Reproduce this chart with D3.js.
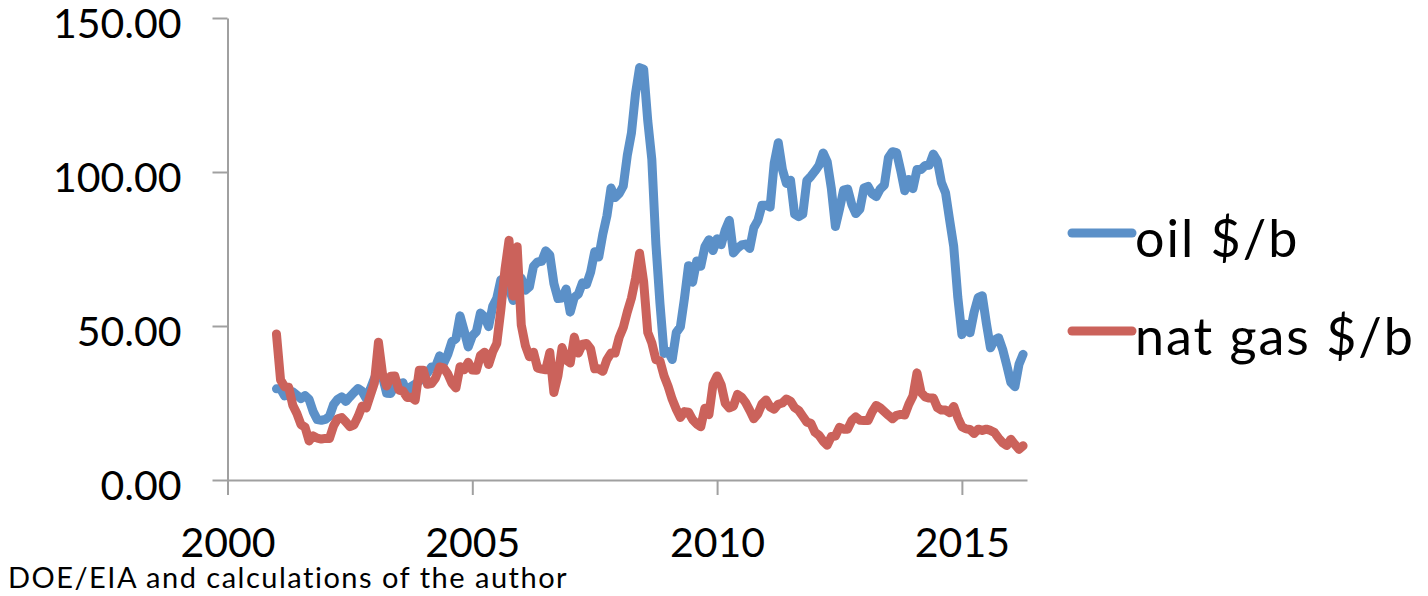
<!DOCTYPE html>
<html>
<head>
<meta charset="utf-8">
<script src="https://cdn.jsdelivr.net/npm/d3@7"></script>
<style>
  body { margin: 0; background: #fff; }
  svg { display: block; font-family: Lato, "Open Sans", sans-serif; }
</style>
</head>
<body>
<svg></svg>
<script>
// monthly series, Jan 2001 .. Apr 2016
const startYear = 2001;

const oil = [
    29.6, 29.6, 27.3, 27.5, 28.6, 27.6, 26.4, 27.4, 26.2, 22.2, 19.6, 19.4,
    19.7, 20.7, 24.5, 26.2, 27.0, 25.5, 27.0, 28.4, 29.7, 28.8, 26.4, 29.5,
    33.0, 35.8, 33.5, 28.2, 28.1, 30.7, 30.8, 31.6, 28.3, 30.3, 31.1, 32.1,
    34.3, 34.7, 36.7, 36.8, 40.3, 38.0, 40.8, 44.9, 45.9, 53.3, 48.5, 43.2,
    46.8, 48.2, 54.2, 53.0, 49.8, 56.4, 59.0, 65.0, 65.6, 62.3, 58.3, 59.4,
    65.5, 61.6, 62.7, 69.4, 70.8, 71.0, 74.4, 73.0, 63.8, 58.9, 59.1, 62.0,
    54.5, 59.3, 60.4, 64.0, 63.5, 67.5, 74.1, 72.4, 79.9, 85.8, 94.8, 91.7,
    93.0, 95.4, 105.5, 112.6, 125.4, 133.9, 133.4, 116.7, 104.1, 76.6, 57.3, 41.1,
    41.7, 39.1, 47.9, 49.7, 59.0, 69.6, 64.2, 71.1, 69.4, 75.7, 78.0, 74.5,
    78.3, 76.4, 81.2, 84.3, 73.7, 75.3, 76.3, 76.6, 75.2, 81.9, 84.3, 89.2,
    89.2, 88.6, 102.9, 109.5, 100.9, 96.3, 97.3, 86.3, 85.5, 86.3, 97.2, 98.6,
    100.3, 102.2, 106.2, 103.3, 94.7, 82.3, 87.9, 94.1, 94.5, 89.5, 86.5, 87.9,
    94.8, 95.3, 92.9, 92.0, 94.5, 95.8, 104.7, 106.6, 106.3, 100.5, 93.9, 97.6,
    94.6, 100.8, 100.8, 102.1, 102.2, 105.8, 103.6, 96.5, 93.2, 84.4, 75.8, 59.3,
    47.2, 50.6, 47.8, 54.5, 59.3, 59.8, 50.9, 42.9, 45.5, 46.2, 42.4, 37.2,
    31.7, 30.3, 37.6, 40.8
];

const natGas = [
    47.4, 32.5, 30.3, 30.1, 24.3, 21.6, 18.0, 17.2, 12.7, 14.3, 13.6, 13.3,
    13.5, 13.5, 17.6, 19.9, 20.3, 18.9, 17.3, 17.9, 20.6, 24.0, 23.4, 27.5,
    31.5, 44.7, 34.4, 30.5, 33.7, 33.8, 29.2, 28.9, 26.8, 26.9, 25.9, 35.6,
    35.6, 31.1, 31.3, 33.1, 36.7, 36.4, 34.4, 31.4, 29.9, 36.8, 35.8, 38.2,
    35.7, 35.6, 40.4, 41.5, 37.5, 41.6, 44.3, 55.3, 68.2, 77.8, 59.7, 75.7,
    50.4, 43.7, 40.0, 41.5, 36.3, 36.0, 35.8, 41.4, 28.4, 33.9, 43.0, 39.0,
    38.0, 46.4, 41.2, 44.1, 44.3, 42.6, 36.1, 36.1, 35.3, 39.1, 41.2, 41.2,
    46.3, 49.5, 54.6, 59.0, 65.4, 73.6, 64.3, 47.9, 44.5, 39.1, 38.7, 33.8,
    30.4, 26.2, 23.0, 20.3, 22.2, 22.0, 19.6, 18.2, 17.3, 23.3, 21.2, 31.0,
    33.8, 30.9, 24.9, 23.4, 24.0, 27.8, 26.9, 25.1, 22.6, 19.9, 21.5, 24.7,
    26.0, 23.7, 23.0, 24.6, 25.0, 26.3, 25.6, 23.5, 22.6, 20.7, 18.8, 18.4,
    15.5, 14.5, 12.6, 11.3, 14.1, 14.3, 17.1, 16.5, 16.5, 19.3, 20.5, 19.4,
    19.3, 19.3, 22.1, 24.2, 23.4, 22.2, 21.0, 19.9, 21.0, 21.3, 21.1, 24.6,
    27.3, 34.8, 28.4, 27.0, 26.6, 26.6, 23.5, 22.7, 22.7, 21.9, 23.9, 20.2,
    17.3, 16.6, 16.4, 15.1, 16.5, 16.1, 16.5, 16.1, 15.4, 13.6, 12.1, 11.2,
    13.2, 11.5, 10.0, 11.1
];

const yTicks = [0, 50, 100, 150];
const xTicks = [2000, 2005, 2010, 2015];
const seriesNames = ["oil $/b", "nat gas $/b"];
const colors = ["#5b90c8", "#cb625b"];

const width = 1428, height = 596;

const svg = d3.select('svg')
    .attr("width", width)
    .attr("height", height);

const x = d3.scaleLinear().domain([2000, 2016.33]).range([227.5, 1027]);
const y = d3.scaleLinear().domain([0, 150]).range([480, 18]);

const axisColor = '#a0a0a0';

// y axis
const yAxis = svg.append('g')
    .attr('transform', 'translate(227.5,0)')
    .call(d3.axisLeft(y).tickValues(yTicks).tickSize(15).tickSizeOuter(0)
        .tickPadding(31).tickFormat(d3.format('.2f')));
yAxis.select('.domain').attr('stroke', axisColor).attr('stroke-width', 2);
yAxis.selectAll('.tick line').attr('stroke', axisColor).attr('stroke-width', 2);
yAxis.selectAll('.tick text')
    .attr('dy', '0.47em')
    .attr('fill', '#000')
    .style('font-size', '41px')
    .style('font-family', 'Lato, sans-serif');

// x axis
const xAxis = svg.append('g')
    .attr('transform', 'translate(0,480)')
    .call(d3.axisBottom(x).tickValues(xTicks).tickSize(15).tickSizeOuter(0)
        .tickFormat(d3.format('d')));
xAxis.select('.domain').attr('stroke', axisColor).attr('stroke-width', 2);
xAxis.selectAll('.tick line').attr('stroke', axisColor).attr('stroke-width', 2);
xAxis.selectAll('.tick text')
    .attr('y', 77)
    .attr('dy', 0)
    .attr('fill', '#000')
    .style('font-size', '41px')
    .style('font-family', 'Lato, sans-serif');

const line = d3.line()
    .x((d, i) => x(startYear + i / 12))
    .y(d => y(d));

[oil, natGas].forEach((s, k) => {
    svg.append('path')
        .datum(s)
        .attr('d', line)
        .attr('fill', 'none')
        .attr('stroke', colors[k])
        .attr('stroke-width', 9)
        .attr('stroke-linejoin', 'round')
        .attr('stroke-linecap', 'round');
});

// legend
const legend = svg.append('g');
seriesNames.forEach((name, k) => {
    const ly = 233 + k * 98;
    legend.append('line')
        .attr('x1', 1072).attr('x2', 1132)
        .attr('y1', ly).attr('y2', ly)
        .attr('stroke', colors[k])
        .attr('stroke-width', 9)
        .attr('stroke-linecap', 'round');
    legend.append('text')
        .attr('x', 1135)
        .attr('y', ly + 24)
        .style('font-size', '52px')
        .style('letter-spacing', '2px')
        .text(name);
});

svg.append('text')
    .attr('x', 8)
    .attr('y', 588)
    .style('font-size', '29px')
    .style('letter-spacing', '1.5px')
    .text('DOE/EIA and calculations of the author');
</script>
</body>
</html>
